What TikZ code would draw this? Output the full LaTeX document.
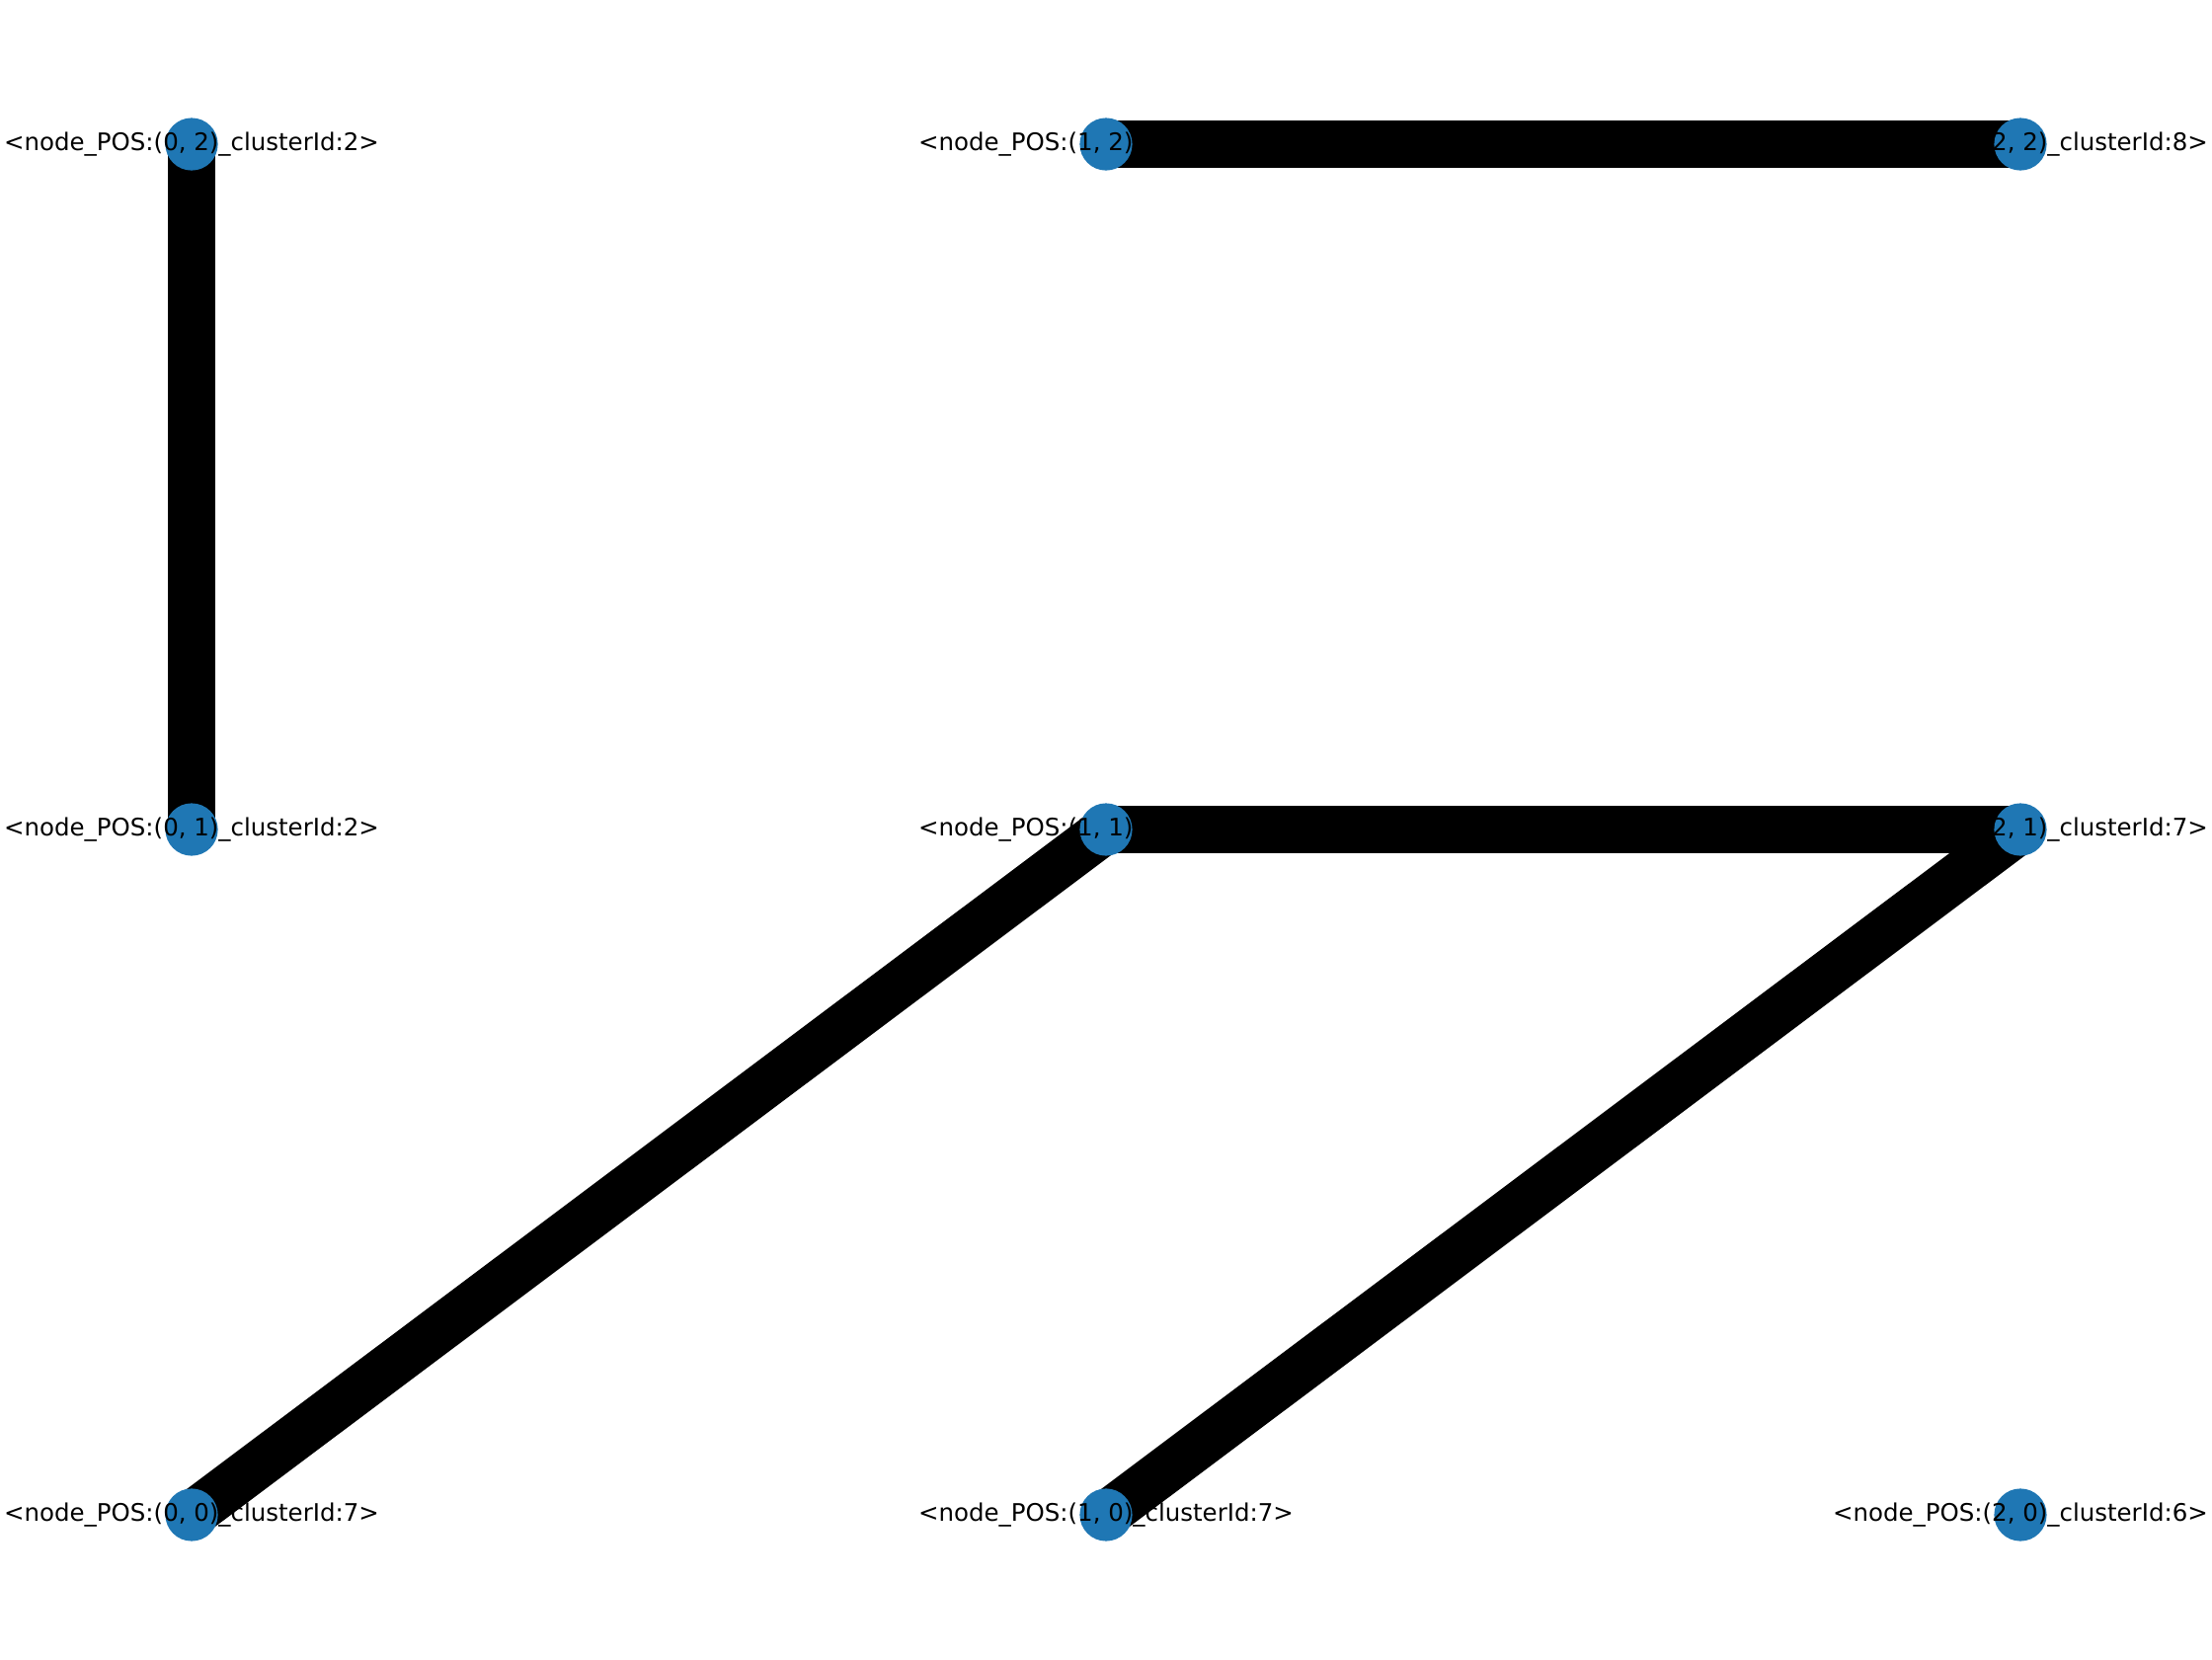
\documentclass[tikz,border=0pt]{standalone}
\usepackage{fontspec}
\setmainfont{DejaVu Sans}
\usetikzlibrary{backgrounds}
\definecolor{azulnodo}{HTML}{1F77B4}
\tikzset{
  vertice/.style={circle, fill=azulnodo, minimum size=0.38cm, inner sep=0pt},
  rotulo/.style={inner sep=0pt, font=\fontsize{4.97}{6}\selectfont},
  arista/.style={draw=black, line width=9.7pt},
}
\begin{document}
\begin{tikzpicture}
  \useasboundingbox (0,0) rectangle (16,12);
  % vertices
  \node[vertice] (p02) at (1.386,10.957) {};
  \node[vertice] (p12) at (8.0,10.957) {};
  \node[vertice] (p22) at (14.614,10.957) {};
  \node[vertice] (p01) at (1.386,6.0) {};
  \node[vertice] (p11) at (8.0,6.0) {};
  \node[vertice] (p21) at (14.614,6.0) {};
  \node[vertice] (p00) at (1.386,1.043) {};
  \node[vertice] (p10) at (8.0,1.043) {};
  \node[vertice] (p20) at (14.614,1.043) {};
  % aristas
  \begin{pgfonlayer}{background}
    \path[arista] (p02.center) -- (p01.center);
    \path[arista] (p12.center) -- (p22.center);
    \path[arista] (p11.center) -- (p21.center);
    \path[arista] (p11.center) -- (p00.center);
    \path[arista] (p21.center) -- (p10.center);
  \end{pgfonlayer}
  % rotulos
  \node[rotulo] at (p02) {<node\_POS:(0, 2)\_clusterId:2>};
  \node[rotulo] at (p12) {<node\_POS:(1, 2)\_clusterId:8>};
  \node[rotulo] at (p22) {<node\_POS:(2, 2)\_clusterId:8>};
  \node[rotulo] at (p01) {<node\_POS:(0, 1)\_clusterId:2>};
  \node[rotulo] at (p11) {<node\_POS:(1, 1)\_clusterId:7>};
  \node[rotulo] at (p21) {<node\_POS:(2, 1)\_clusterId:7>};
  \node[rotulo] at (p00) {<node\_POS:(0, 0)\_clusterId:7>};
  \node[rotulo] at (p10) {<node\_POS:(1, 0)\_clusterId:7>};
  \node[rotulo] at (p20) {<node\_POS:(2, 0)\_clusterId:6>};
\end{tikzpicture}
\end{document}
